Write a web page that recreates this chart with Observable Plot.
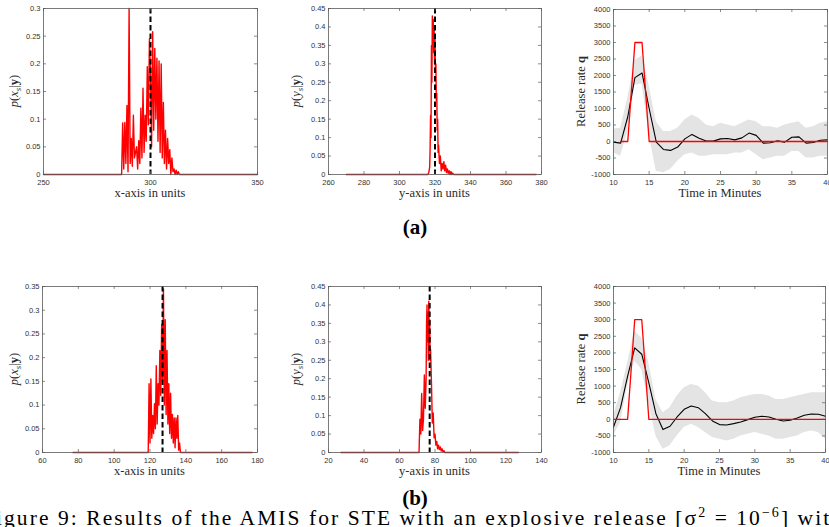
<!DOCTYPE html>
<html><head><meta charset="utf-8">
<script src="https://cdn.jsdelivr.net/npm/d3@7"></script>
<script src="https://cdn.jsdelivr.net/npm/@observablehq/plot@0.6"></script>
<style>
body{margin:0;background:#fff}
#fig{position:relative;width:829px;height:527px;overflow:hidden;background:#fff}
#fig svg{position:absolute}
</style></head><body><div id="fig"></div>
<script>
// ---------- tick values and labels ----------
const xTicksA1 = [250, 300, 350];
const xLabelsA1 = ["250", "300", "350"];
const yTicksA1 = [0, 0.05, 0.1, 0.15, 0.2, 0.25, 0.3];
const yLabelsA1 = ["0", "0.05", "0.1", "0.15", "0.2", "0.25", "0.3"];

const xTicksA2 = [260, 280, 300, 320, 340, 360, 380];
const xLabelsA2 = ["260", "280", "300", "320", "340", "360", "380"];
const yTicks045 = [0, 0.05, 0.1, 0.15, 0.2, 0.25, 0.3, 0.35, 0.4, 0.45];
const yLabels045 = ["0", "0.05", "0.1", "0.15", "0.2", "0.25", "0.3", "0.35", "0.4", "0.45"];

const xTicksB1 = [60, 80, 100, 120, 140, 160, 180];
const xLabelsB1 = ["60", "80", "100", "120", "140", "160", "180"];
const yTicksB1 = [0, 0.05, 0.1, 0.15, 0.2, 0.25, 0.3, 0.35];
const yLabelsB1 = ["0", "0.05", "0.1", "0.15", "0.2", "0.25", "0.3", "0.35"];

const xTicksB2 = [20, 40, 60, 80, 100, 120, 140];
const xLabelsB2 = ["20", "40", "60", "80", "100", "120", "140"];

const tTicks = [10, 15, 20, 25, 30, 35, 40];
const tLabels = ["10", "15", "20", "25", "30", "35", "40"];
const qTicks = [-1000, -500, 0, 500, 1000, 1500, 2000, 2500, 3000, 3500, 4000];
const qLabels = ["-1000", "-500", "0", "500", "1000", "1500", "2000", "2500", "3000", "3500", "4000"];

// ---------- posterior histograms [position, p] ----------
const histXa = [[250,0],[286,0],[286.5,0],[287,0.093],[287.5,0.01],[288,0.094],[288.5,0.02],[289,0.125],[289.5,0.005],[290,0.3],[290.5,0.02],[291,0.065],[291.5,0.015],[292,0.107],[292.5,0.03],[293,0.04],[293.5,0.05],[294,0.01],[294.5,0.061],[295,0.02],[295.5,0.12],[296,0.03],[296.5,0.156],[297,0.04],[297.5,0.107],[298,0.06],[298.5,0.195],[299,0.09],[299.5,0.245],[300,0.183],[300.5,0.05],[301,0.258],[301.5,0.08],[302,0.228],[302.5,0.1],[303,0.21],[303.5,0.06],[304,0.205],[304.5,0.04],[305,0.2],[305.5,0.03],[306,0.13],[306.5,0.02],[307,0.08],[307.5,0.01],[308,0.065],[308.5,0.02],[309,0.045],[309.5,0],[310,0.03],[310.5,0.005],[311,0.01],[311.5,0],[312,0.008],[312.5,0],[313,0.005],[313.5,0],[314,0],[350,0]];
const histYa = [[270,0],[316,0],[316.5,0.005],[317,0.02],[317.25,0.07],[317.5,0.16],[317.75,0.1],[318,0.35],[318.25,0.25],[318.5,0.43],[318.75,0.38],[319,0.42],[319.25,0.33],[319.5,0.4],[319.75,0.3],[320,0.37],[320.25,0.28],[320.5,0.3],[320.75,0.2],[321,0.22],[321.25,0.12],[321.5,0.15],[321.75,0.06],[322,0.08],[322.5,0.03],[323,0.05],[323.5,0.01],[324,0.03],[324.5,0.015],[325,0.035],[325.5,0.01],[326,0.025],[326.5,0.005],[327,0.015],[327.5,0.003],[328,0.01],[328.5,0],[329,0.008],[329.5,0],[330,0.004],[330.5,0],[377,0]];
const histXb = [[77,0],[119,0],[119.5,0.145],[120,0.02],[120.5,0.155],[121,0.03],[121.5,0.078],[122,0.04],[122.5,0.103],[123,0.05],[123.5,0.183],[124,0.06],[124.5,0.145],[125,0.1],[125.5,0.215],[126,0.12],[126.5,0.27],[127,0.15],[127.5,0.345],[128,0.1],[128.5,0.28],[129,0.08],[129.5,0.215],[130,0.06],[130.5,0.145],[131,0.04],[131.5,0.125],[132,0.03],[132.5,0.08],[133,0.02],[133.5,0.073],[134,0.01],[134.5,0.073],[135,0.03],[135.5,0.078],[136,0.005],[136.5,0.02],[137,0],[177,0]];
const histYb = [[27,0],[71,0],[71.5,0.09],[72,0.05],[72.5,0.16],[73,0.06],[73.5,0.09],[74,0.21],[74.5,0.12],[75,0.2],[75.25,0.35],[75.5,0.4],[75.75,0.3],[76,0.38],[76.25,0.25],[76.5,0.41],[76.75,0.33],[77,0.36],[77.25,0.25],[77.5,0.28],[78,0.19],[78.5,0.08],[79,0.107],[79.5,0.04],[80,0.05],[80.5,0.02],[81,0.03],[81.5,0.01],[82,0.02],[82.5,0.008],[83,0.015],[83.5,0.004],[84,0.01],[84.5,0.002],[85,0.005],[85.5,0],[127,0]];

// true source positions
const trueXa = [300], trueYa = [320], trueXb = [127], trueYb = [77];

// ---------- release rate ----------
const minutes = [10,11,12,13,14,15,16,17,18,19,20,21,22,23,24,25,26,27,28,29,30,31,32,33,34,35,36,37,38,39,40];
const meanA = [-20,-50,750,1935,2077,1000,-20,-240,-270,-170,80,215,100,12,12,80,90,50,110,255,185,-50,-40,20,-20,130,140,-50,-30,40,50];
const hiA = [380,400,1300,2450,2600,1700,600,300,300,400,650,800,700,500,450,550,500,450,550,650,600,450,450,400,500,550,600,400,450,550,600];
const loA = [-350,-450,300,1700,1750,200,-900,-950,-850,-600,-400,-350,-450,-450,-400,-400,-400,-350,-350,-250,-400,-550,-500,-450,-450,-300,-300,-500,-500,-450,-450];
const meanB = [-230,350,1300,2150,1960,1100,170,-310,-210,70,300,400,350,170,-50,-160,-170,-130,-80,-10,60,90,70,0,-50,-30,40,120,160,150,90];
const hiB = [100,800,1700,2650,2450,1700,600,200,350,700,950,1050,1000,800,550,500,500,550,650,700,750,750,700,600,600,650,700,750,800,800,800];
const loB = [-500,-100,1000,1750,1500,500,-500,-900,-800,-500,-250,-150,-250,-400,-550,-600,-650,-600,-500,-450,-400,-450,-500,-600,-600,-550,-500,-400,-350,-400,-600];
const trueTA = [11, 12, 13, 14, 15, 40];
const trueTB = [10, 12, 13, 14, 15, 40];
const trueQ = [0, 0, 3000, 3000, 0, 0];

// ---------- drawing ----------
const fig = document.getElementById("fig");
const serif = "'Liberation Serif', 'Times New Roman', serif";
const ink = "#2a2a2a";
const frameC = "#5a5a5a";

function makePanel(c) {
  const iw = c.width - c.mL - c.mR, ih = c.height - c.mT - c.mB;
  const fmt = (ticks, labels) => d => labels[ticks.indexOf(d)];
  const svg = Plot.plot({
    width: c.width, height: c.height,
    marginLeft: c.mL, marginRight: c.mR, marginTop: c.mT, marginBottom: c.mB,
    style: {fontFamily: "'Liberation Sans', Arial, sans-serif", fontSize: "7.5px", color: "#333", background: "transparent", overflow: "visible"},
    x: {domain: c.xDomain},
    y: {domain: c.yDomain},
    marks: [
      ...c.marks,
      Plot.ruleX(c.xTicks, {x: d => d, insetTop: ih - 3, stroke: frameC, strokeWidth: 0.7}),
      Plot.ruleX(c.xTicks, {x: d => d, insetBottom: ih - 3, stroke: frameC, strokeWidth: 0.7}),
      Plot.ruleY(c.yTicks, {y: d => d, insetRight: iw - 3, stroke: frameC, strokeWidth: 0.7}),
      Plot.ruleY(c.yTicks, {y: d => d, insetLeft: iw - 3, stroke: frameC, strokeWidth: 0.7}),
      Plot.frame({stroke: frameC, strokeWidth: 0.8}),
      Plot.axisX({ticks: c.xTicks, tickFormat: fmt(c.xTicks, c.xLabels), tickSize: 0, tickPadding: 5, label: null}),
      Plot.axisY({ticks: c.yTicks, tickFormat: fmt(c.yTicks, c.yLabels), tickSize: 0, tickPadding: 3, label: null})
    ]
  });
  svg.style.left = c.left + "px";
  svg.style.top = c.top + "px";
  const s = d3.select(svg);
  s.append("text")
    .attr("x", c.mL + iw / 2).attr("y", c.mT + ih + 23)
    .attr("text-anchor", "middle")
    .style("font-family", serif).style("font-size", "12.5px").style("fill", ink)
    .text(c.xLabel);
  const t = s.append("text")
    .attr("transform", `translate(${c.yLabX},${c.mT + ih / 2}) rotate(-90)`)
    .attr("text-anchor", "middle")
    .style("font-family", serif).style("font-size", c.yLabSize || "12.5px").style("fill", ink);
  for (const p of c.yLabel) {
    const ts = t.append("tspan").text(p.t);
    if (p.i) ts.style("font-style", "italic");
    if (p.b) ts.style("font-weight", "bold");
    if (p.sub) ts.attr("dy", 2.5).style("font-size", "70%");
    if (p.up) ts.attr("dy", -2.5);
  }
  fig.appendChild(svg);
}

const histMarks = (rows, src) => [
  Plot.line(rows, {x: d => d[0], y: d => d[1], stroke: "#ff0000", strokeWidth: 1.4}),
  Plot.ruleX(src, {x: d => d, stroke: "#000", strokeWidth: 2, strokeDasharray: "5.5,3"})
];
const releaseMarks = (mean, hi, lo, tt) => [
  Plot.areaY(minutes, {x: d => d, y1: (d, i) => lo[i], y2: (d, i) => hi[i], fill: "#e4e4e4", curve: "linear"}),
  Plot.line(minutes, {x: d => d, y: (d, i) => mean[i], stroke: "#000", strokeWidth: 1.1}),
  Plot.line(tt, {x: d => d, y: (d, i) => trueQ[i], stroke: "#ff0000", strokeWidth: 1.3})
];

const labPX = [{t: "p", i: true}, {t: "("}, {t: "x", i: true}, {t: "s", i: true, sub: true}, {t: "|", up: true}, {t: "y", b: true}, {t: ")"}];
const labPY = [{t: "p", i: true}, {t: "("}, {t: "y", i: true}, {t: "s", i: true, sub: true}, {t: "|", up: true}, {t: "y", b: true}, {t: ")"}];
const labQ = [{t: "Release rate "}, {t: "q", b: true}];

// row (a)
makePanel({left: 0, top: 0, width: 280, height: 200, mL: 43, mR: 23, mT: 8, mB: 26,
  xDomain: [250, 350], yDomain: [0, 0.3], xTicks: xTicksA1, xLabels: xLabelsA1, yTicks: yTicksA1, yLabels: yLabelsA1,
  marks: histMarks(histXa, trueXa), xLabel: "x-axis in units", yLabel: labPX, yLabX: 18});
makePanel({left: 280, top: 0, width: 280, height: 200, mL: 48, mR: 19, mT: 8, mB: 26,
  xDomain: [260, 380], yDomain: [0, 0.45], xTicks: xTicksA2, xLabels: xLabelsA2, yTicks: yTicks045, yLabels: yLabels045,
  marks: histMarks(histYa, trueYa), xLabel: "y-axis in units", yLabel: labPY, yLabX: 20});
makePanel({left: 560, top: 0, width: 269, height: 200, mL: 53, mR: 2, mT: 9, mB: 26,
  xDomain: [10, 40], yDomain: [-1000, 4000], xTicks: tTicks, xLabels: tLabels, yTicks: qTicks, yLabels: qLabels,
  marks: releaseMarks(meanA, hiA, loA, trueTA), xLabel: "Time in Minutes", yLabel: labQ, yLabX: 25});
// row (b)
makePanel({left: 0, top: 270, width: 280, height: 210, mL: 42, mR: 23, mT: 16, mB: 28,
  xDomain: [60, 180], yDomain: [0, 0.35], xTicks: xTicksB1, xLabels: xLabelsB1, yTicks: yTicksB1, yLabels: yLabelsB1,
  marks: histMarks(histXb, trueXb), xLabel: "x-axis in units", yLabel: labPX, yLabX: 18});
makePanel({left: 280, top: 270, width: 280, height: 210, mL: 48, mR: 19, mT: 16, mB: 28,
  xDomain: [20, 140], yDomain: [0, 0.45], xTicks: xTicksB2, xLabels: xLabelsB2, yTicks: yTicks045, yLabels: yLabels045,
  marks: histMarks(histYb, trueYb), xLabel: "y-axis in units", yLabel: labPY, yLabX: 20});
makePanel({left: 560, top: 270, width: 269, height: 210, mL: 53, mR: 4, mT: 16, mB: 28,
  xDomain: [10, 40], yDomain: [-1000, 4000], xTicks: tTicks, xLabels: tLabels, yTicks: qTicks, yLabels: qLabels,
  marks: releaseMarks(meanB, hiB, loB, trueTB), xLabel: "Time in Minutes", yLabel: labQ, yLabX: 25});

// ---------- sub-figure labels and caption ----------
const ov = d3.select(fig).append("svg").attr("width", 829).attr("height", 527).style("left", "0px").style("top", "0px");
ov.append("text").attr("x", 415).attr("y", 234).attr("text-anchor", "middle")
  .style("font-family", serif).style("font-weight", "bold").style("font-size", "21px").style("fill", "#000").text("(a)");
ov.append("text").attr("x", 415).attr("y", 505).attr("text-anchor", "middle")
  .style("font-family", serif).style("font-weight", "bold").style("font-size", "21px").style("fill", "#000").text("(b)");
const cap = ov.append("text").attr("x", -18).attr("y", 525)
  .attr("textLength", 860).attr("lengthAdjust", "spacing")
  .style("font-family", serif).style("font-size", "21.5px").style("fill", "#000");
cap.append("tspan").text("Figure 9:  Results of the AMIS for STE with an explosive release [σ");
cap.append("tspan").attr("dy", -8).style("font-size", "14px").text("2");
cap.append("tspan").attr("dy", 8).text(" = 10");
cap.append("tspan").attr("dy", -8).style("font-size", "14px").text("−6");
cap.append("tspan").attr("dy", 8).text("] with");
</script>
</body></html>
